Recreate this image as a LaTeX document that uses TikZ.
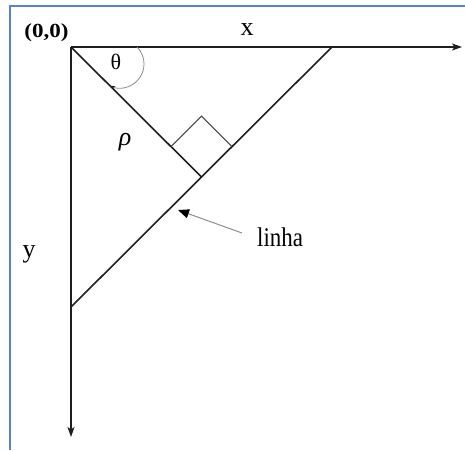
\documentclass[tikz,border=0pt]{standalone}
\usepackage{fontspec}
\setmainfont{Liberation Serif}
\usetikzlibrary{arrows.meta}
\definecolor{frameblue}{RGB}{85,130,215}
\definecolor{ink}{RGB}{30,30,30}
\definecolor{markgray}{RGB}{70,70,70}
\definecolor{arcgray}{RGB}{140,140,140}
\newcommand\setfs[1]{\fontsize{#1}{#1}\selectfont}
\begin{document}
\begin{tikzpicture}[x=1pt,y=-1pt,
  frameline/.style={draw=frameblue, line width=2pt},
  axisline/.style={draw=ink, line width=1.7pt, -{Stealth[length=10pt,width=7pt,inset=2.5pt]}},
  mainline/.style={draw=ink, line width=1.6pt},
  rightmark/.style={draw=markgray, line width=1.1pt},
  anglearc/.style={draw=arcgray, line width=0.8pt, -{Stealth[length=5pt,width=4pt,color=ink]}},
  pointer/.style={draw=arcgray, line width=1pt, -{Triangle[length=11pt,width=9pt,color=black]}},
  lbl/.style={inner sep=0pt, text=black}
]
\useasboundingbox (0,0) rectangle (465,450);
% frame (top and left edges only)
\draw[frameline] (9.5,450) -- (9.5,5.5) -- (465,5.5);

% key points
\coordinate (O) at (71,47);
\coordinate (X) at (462,47);
\coordinate (Y) at (71,437);
\coordinate (A) at (332,47);
\coordinate (B) at (71,307);
\coordinate (F) at (201.5,177);
\coordinate (P1) at (171.1,146.6);
\coordinate (P2) at (201.5,116.2);
\coordinate (P3) at (231.9,146.6);
\coordinate (arcstart) at (137,47);
\coordinate (ptrstart) at (242,233);
\coordinate (ptrend) at (178,210);

% axes
\draw[axisline] (O) -- (X);
\draw[axisline] (O) -- (Y);
% line and normal
\draw[mainline] (A) -- (B);
\draw[mainline] (O) -- (F);
% right angle mark
\draw[rightmark] (P1) -- (P2) -- (P3);
% theta arc
\draw[anglearc] (arcstart) arc[start angle=-45, end angle=114, radius=24];
% pointer to the line
\draw[pointer] (ptrstart) -- (ptrend);

% labels
\node[lbl, font=\setfs{20}\bfseries] (origin) at (46.5,32.5) {\scalebox{1.15}[1]{(0,0)}};
\node[lbl, font=\setfs{26}, anchor=base] (xlabel) at (247,35) {x};
\node[lbl, font=\setfs{26}, anchor=base] (ylabel) at (29,257) {y};
\node[lbl, font=\setfs{27}, anchor=base west] (linha) at (257,246) {\scalebox{0.85}[1]{linha}};
\node[lbl, font=\setfs{22}] (theta) at (116,62) {θ};
\node[lbl, font=\setfs{26}\itshape] (rho) at (125,142) {ρ};
\end{tikzpicture}
\end{document}
